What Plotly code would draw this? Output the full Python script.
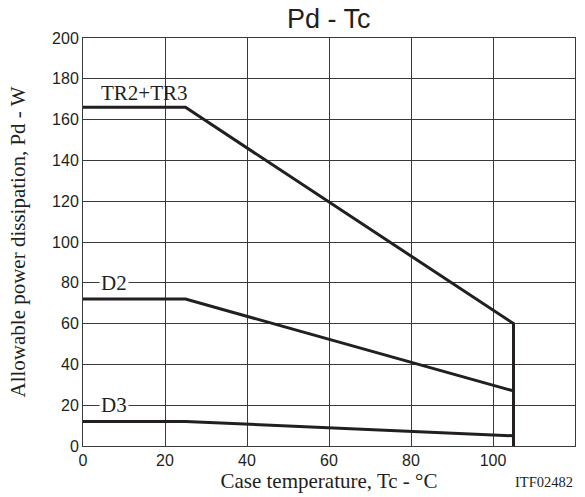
import plotly.graph_objects as go

tc = [0, 25, 105]
tr_tc = [0, 25, 105, 105]
tr2_tr3 = [166, 166, 60, 0]
d2 = [72, 72, 27]
d3 = [12, 12, 5]

labels = ["TR2+TR3", "D2", "D3"]
label_x = [15, 7.5, 7.5]
label_y = [173, 80, 20]

x_ticks = [0, 20, 40, 60, 80, 100, 120]
y_ticks = [0, 20, 40, 60, 80, 100, 120, 140, 160, 180, 200]

line_color = "#231f20"
fig = go.Figure()
fig.add_trace(go.Scatter(x=tr_tc, y=tr2_tr3, mode="lines", line=dict(color=line_color, width=3), showlegend=False))
fig.add_trace(go.Scatter(x=tc, y=d2, mode="lines", line=dict(color=line_color, width=3), showlegend=False))
fig.add_trace(go.Scatter(x=tc, y=d3, mode="lines", line=dict(color=line_color, width=3), showlegend=False))

for t, xx, yy in zip(labels, label_x, label_y):
    fig.add_annotation(x=xx, y=yy, text=t, showarrow=False, bgcolor="white" if t != "TR2+TR3" else None,
                       font=dict(family="Liberation Serif", size=21, color="#231f20"), borderpad=1)

fig.add_annotation(x=1, y=0, xref="paper", yref="paper", xanchor="right", yanchor="top", yshift=-26,
                   text="ITF02482", showarrow=False,
                   font=dict(family="Liberation Serif", size=14.5, color="#231f20"))

axis_common = dict(showgrid=True, gridcolor="#3a3a3a", gridwidth=1, showline=True, linecolor="#3a3a3a",
                   linewidth=1, mirror=True, zeroline=False, ticks="", automargin=False,
                   tickfont=dict(family="Liberation Sans", size=16, color="#231f20"))
fig.update_xaxes(range=[0, 120], tickvals=x_ticks, **axis_common,
                 title=dict(text="Case temperature, Tc - °C", standoff=4,
                            font=dict(family="Liberation Serif", size=21, color="#231f20")))
fig.update_yaxes(range=[0, 200], tickvals=y_ticks, **axis_common,
                 title=dict(text="Allowable power dissipation, Pd - W", standoff=20,
                            font=dict(family="Liberation Serif", size=21, color="#231f20")))

fig.update_layout(
    width=585, height=497,
    margin=dict(l=83, r=10, t=38, b=51),
    paper_bgcolor="white", plot_bgcolor="white",
    hovermode=False,
    title=dict(text="Pd - Tc", x=0.562, xanchor="center", y=0.962, yanchor="middle",
               font=dict(family="Liberation Sans", size=27, color="#231f20")),
)
fig.write_html("out.html", config={"displayModeBar": False},
               post_script="document.body.style.margin='0';")
